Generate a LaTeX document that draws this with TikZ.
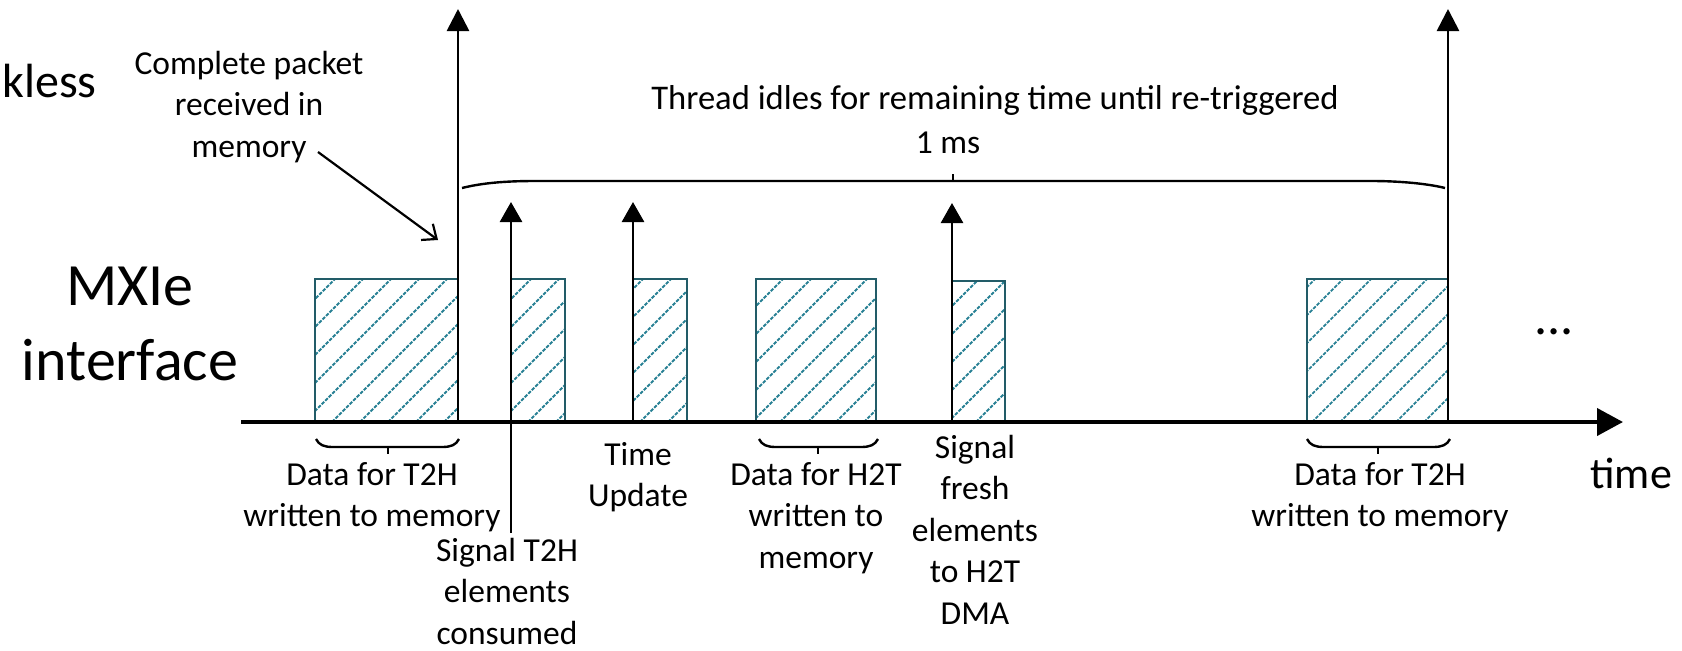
\documentclass[tikz,border=0pt]{standalone}
\usepackage{fontspec}
\setmainfont{Carlito}
\usetikzlibrary{arrows.meta,fit}
\definecolor{hatchteal}{RGB}{40,128,148}
\definecolor{edgeteal}{RGB}{34,92,104}

% hatched data block: name, x1, y1, x2, y2 (pixel units, y down)
\newcommand\hatchedbox[5]{%
  \begin{scope}
    \clip (#2,#3) rectangle (#4,#5);
    \foreach \c in {586,614,...,1902} {\draw[hatch] (\c-#5,#5) -- (\c-#3,#3);}
  \end{scope}
  \node[boxedge, fit={(#2,#3) (#4,#5)}] (#1) {};
}
% bracket under a block: x1, x2, xmid
\newcommand\underbracket[3]{%
  \draw[bracepath] (#1,439) .. controls (#1+3,445) and (#1+8,447) .. (#1+17,447)
    -- (#2-17,447) .. controls (#2-8,447) and (#2-3,445) .. (#2,439);
  \draw[bracepath] (#3,447) -- (#3,454);
}

\begin{document}
\begin{tikzpicture}[x=0.5pt,y=-0.5pt,
  lbl/.style={font=\fontsize{16.75pt}{20.75pt}\selectfont, inner sep=0pt, align=center, anchor=north},
  one/.style={font=\fontsize{16.75pt}{20.75pt}\selectfont, inner sep=0pt, anchor=base},
  marker/.style={line width=1.35pt, -{Triangle[length=11pt,width=11pt]}},
  shortmarker/.style={line width=1.35pt, -{Triangle[length=10pt,width=11pt]}},
  axisline/.style={line width=2pt, -{Triangle[length=13pt,width=13.5pt]}},
  bracepath/.style={line width=1.2pt},
  hatch/.style={hatchteal, line width=0.9pt, dash pattern=on 1.8pt off 0.7pt},
  boxedge/.style={draw=edgeteal, line width=1pt, inner sep=0pt},
  pointer/.style={line width=1.1pt, -{Straight Barb[length=6pt,width=10pt]}}
]
\useasboundingbox (0,0) rectangle (1682,650);

% data blocks on the interface
\hatchedbox{blkA}{315}{279}{458}{422}
\hatchedbox{blkB}{511}{279}{565}{422}
\hatchedbox{blkC}{633}{279}{687}{422}
\hatchedbox{blkD}{756}{279}{876}{422}
\hatchedbox{blkE}{952}{281}{1005}{422}
\hatchedbox{blkF}{1307}{279}{1448}{422}

% time axis
\coordinate (axL) at (241,422);
\coordinate (axR) at (1623,422);
\draw[axisline] (axL) -- (axR);

% trigger and event markers
\coordinate (trgAbase) at (458,422);  \coordinate (trgAtip) at (458,9);
\coordinate (trgBbase) at (1448,422); \coordinate (trgBtip) at (1448,9);
\coordinate (evAbase) at (511,533);   \coordinate (evAtip) at (511,202);
\coordinate (evBbase) at (633,422);   \coordinate (evBtip) at (633,202);
\coordinate (evCbase) at (952,422);   \coordinate (evCtip) at (952,203);
\draw[marker] (trgAbase) -- (trgAtip);
\draw[marker] (trgBbase) -- (trgBtip);
\draw[shortmarker] (evAbase) -- (evAtip);
\draw[shortmarker] (evBbase) -- (evBtip);
\draw[shortmarker] (evCbase) -- (evCtip);

% 1 ms period bracket
\draw[bracepath] (462,188) .. controls (482,183) and (505,181) .. (535,181)
  -- (1372,181) .. controls (1395,181) and (1425,183) .. (1445,188);
\draw[bracepath] (953,181) -- (953,174);

% brackets under the transfers
\underbracket{316}{459}{388}
\underbracket{759}{878}{818}
\underbracket{1307}{1450}{1378}

% texts
\node[anchor=base west, inner sep=0pt, font=\fontsize{24pt}{28pt}\selectfont] (kls) at (2,97) {kless};
\node[lbl] (cpk) at (249,46) {\rule{0pt}{14pt}Complete packet\\received in\\memory};
\coordinate (ptrA) at (318,152);
\coordinate (ptrB) at (438,240);
\draw[pointer] (ptrA) -- (ptrB);
\node[one, font=\fontsize{17.3pt}{21pt}\selectfont] (idle) at (995,109) {Thread idles for remaining time until re-triggered};
\node[one] (ms) at (948,153) {1 ms};
\node[inner sep=0pt, align=center, anchor=north, font=\fontsize{30pt}{37.5pt}\selectfont] (mxie) at (130,249) {\rule{0pt}{28pt}MXIe\\interface};
\node[anchor=base, inner sep=0pt, font=\fontsize{26pt}{30pt}\selectfont] (dots) at (1554,334) {...};
\node[anchor=base west, inner sep=0pt, font=\fontsize{22pt}{26pt}\selectfont] (tm) at (1590,488) {time};

\node[lbl] (lblA) at (372,457) {\rule{0pt}{14pt}Data for T2H\\written to memory};
\node[lbl] (lblB) at (507,533) {\rule{0pt}{14pt}Signal T2H\\elements\\consumed};
\node[lbl] (lblC) at (638,437) {\rule{0pt}{14pt}Time\\Update};
\node[lbl] (lblD) at (816,457) {\rule{0pt}{14pt}Data for H2T\\written to\\memory};
\node[lbl] (lblE) at (975,430) {\rule{0pt}{14pt}Signal\\fresh\\elements\\to H2T\\DMA};
\node[lbl] (lblF) at (1380,457) {\rule{0pt}{14pt}Data for T2H\\written to memory};
\end{tikzpicture}
\end{document}
